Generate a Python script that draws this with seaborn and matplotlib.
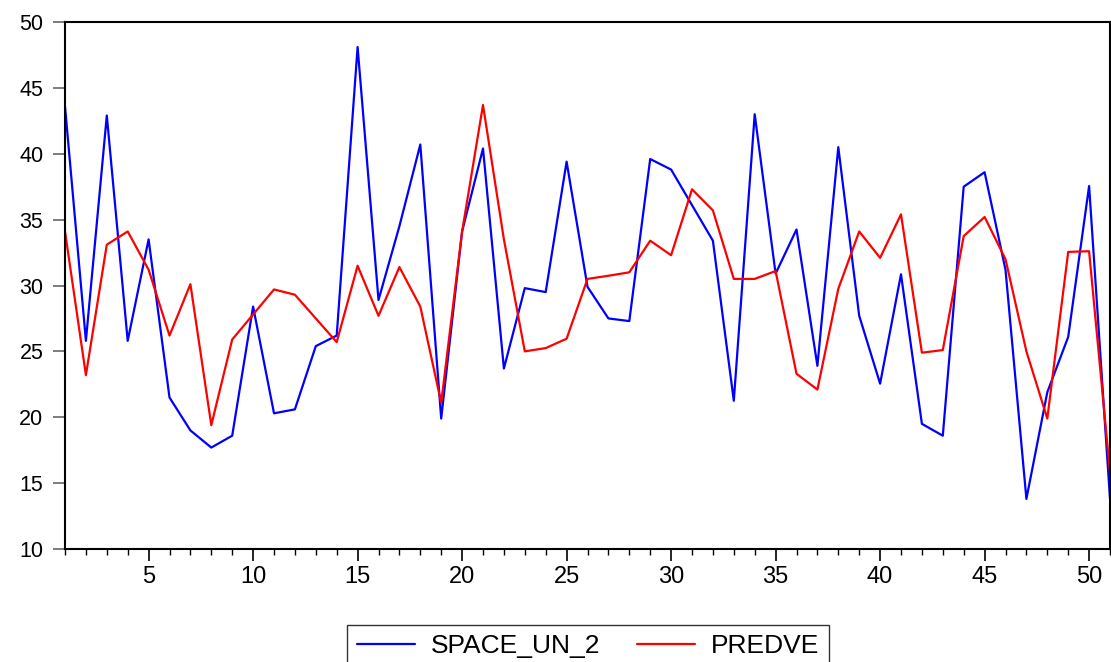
import matplotlib
matplotlib.use("Agg")
import matplotlib.pyplot as plt
import seaborn as sns
import pandas as pd
from matplotlib.ticker import MultipleLocator
from matplotlib.lines import Line2D

obs = list(range(1, 52))
space_un_2 = [43.6, 25.8, 42.9, 25.8, 33.5, 21.5, 19.0, 17.7, 18.6, 28.4,
              20.3, 20.6, 25.4, 26.2, 48.1, 28.9, 34.5, 40.7, 19.9, 34.1,
              40.4, 23.7, 29.8, 29.5, 39.4, 29.9, 27.5, 27.3, 39.6, 38.8,
              36.1, 33.4, 21.25, 43.0, 30.9, 34.25, 23.9, 40.5, 27.7, 22.55,
              30.85, 19.5, 18.6, 37.5, 38.6, 31.2, 13.8, 21.9, 26.1, 37.55, 13.8]
predve = [34.1, 23.2, 33.1, 34.1, 31.2, 26.2, 30.1, 19.4, 25.9, 27.8,
          29.7, 29.3, 27.5, 25.7, 31.5, 27.7, 31.4, 28.4, 21.1, 34.1,
          43.7, 33.5, 25.0, 25.25, 25.96, 30.5, 30.74, 31.0, 33.4, 32.3,
          37.3, 35.7, 30.5, 30.5, 31.1, 23.3, 22.1, 29.75, 34.1, 32.1,
          35.4, 24.9, 25.1, 33.75, 35.2, 32.0, 25.0, 19.9, 32.55, 32.6, 15.8]
series_names = ["SPACE_UN_2", "PREDVE"]
y_ticks = [10, 15, 20, 25, 30, 35, 40, 45, 50]
x_ticks = [5, 10, 15, 20, 25, 30, 35, 40, 45, 50]

df = pd.DataFrame({
    "obs": obs * 2,
    "value": space_un_2 + predve,
    "series": [series_names[0]] * len(obs) + [series_names[1]] * len(obs),
})

sns.set_style("white")
plt.rcParams["font.family"] = ["Liberation Sans", "DejaVu Sans"]
plt.rcParams["text.color"] = "black"
plt.rcParams["xtick.labelcolor"] = "black"
plt.rcParams["ytick.labelcolor"] = "black"

fig = plt.figure(figsize=(11.11, 6.62), dpi=100)
ax = fig.add_axes([65 / 1111, 1 - 549 / 662, (1110 - 65) / 1111, (549 - 22) / 662])

sns.lineplot(data=df, x="obs", y="value", hue="series",
             palette={"SPACE_UN_2": "#0000FF", "PREDVE": "#FF0000"},
             linewidth=1.6, ax=ax, legend=False)

ax.set_xlim(1, 51)
ax.set_ylim(10, 50)
ax.set_xlabel("")
ax.set_ylabel("")
ax.set_yticks(y_ticks)
ax.set_xticks(x_ticks)
ax.xaxis.set_minor_locator(MultipleLocator(1))
ax.tick_params(axis="y", which="major", direction="out", length=8.5, width=1.2,
               color="#666666", labelsize=15.5, labelcolor="black", pad=7, left=True)
ax.tick_params(axis="x", which="major", direction="out", length=8.5, width=1.2,
               color="black", labelsize=17, labelcolor="black", pad=4, bottom=True)
ax.tick_params(axis="x", which="minor", direction="out", length=4.5, width=1.0,
               color="black", bottom=True)
for s in ax.spines.values():
    s.set_visible(True)
    s.set_color("black")
    s.set_linewidth(1.5)

handles = [Line2D([], [], color="#0000FF", lw=1.6), Line2D([], [], color="#FF0000", lw=1.6)]
leg = fig.legend(handles, series_names, loc="upper center",
                 bbox_to_anchor=(588 / 1111, 1 - 625 / 662), ncol=2,
                 fontsize=19, frameon=True, fancybox=False, edgecolor="black",
                 handlelength=2.2, handletextpad=0.6, columnspacing=1.4,
                 borderpad=0.35, borderaxespad=0)
leg.get_frame().set_linewidth(1.0)
for t in leg.get_texts():
    t.set_color("black")

fig.savefig("out.png", dpi=100)
